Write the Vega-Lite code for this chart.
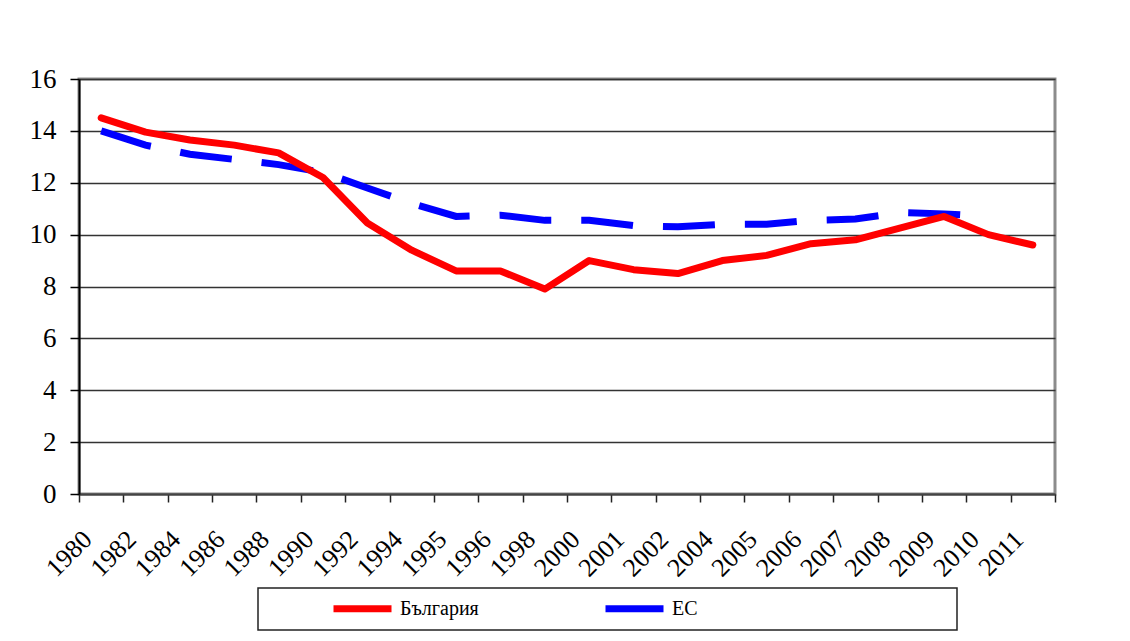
{
  "$schema": "https://vega.github.io/schema/vega-lite/v6.json",
  "width": 976,
  "height": 415,
  "autosize": "none",
  "padding": {"left": 79, "top": 79, "right": 75, "bottom": 147},
  "background": "white",
  "config": {
    "view": {"stroke": "#8c8c8c", "strokeWidth": 3},
    "font": "Liberation Serif",
    "legend": {"strokeColor": "#222222", "strokeWidth": 1.5, "fillColor": "white"}
  },
  "data": {
    "values": [
      {"year": "1980", "series": "България", "value": 14.5},
      {"year": "1982", "series": "България", "value": 13.95},
      {"year": "1984", "series": "България", "value": 13.65},
      {"year": "1986", "series": "България", "value": 13.45},
      {"year": "1988", "series": "България", "value": 13.15},
      {"year": "1990", "series": "България", "value": 12.2},
      {"year": "1992", "series": "България", "value": 10.45},
      {"year": "1994", "series": "България", "value": 9.4},
      {"year": "1995", "series": "България", "value": 8.6},
      {"year": "1996", "series": "България", "value": 8.6},
      {"year": "1998", "series": "България", "value": 7.9},
      {"year": "2000", "series": "България", "value": 9.0},
      {"year": "2001", "series": "България", "value": 8.65},
      {"year": "2002", "series": "България", "value": 8.5},
      {"year": "2004", "series": "България", "value": 9.0},
      {"year": "2005", "series": "България", "value": 9.2},
      {"year": "2006", "series": "България", "value": 9.65},
      {"year": "2007", "series": "България", "value": 9.8},
      {"year": "2008", "series": "България", "value": 10.25},
      {"year": "2009", "series": "България", "value": 10.7},
      {"year": "2010", "series": "България", "value": 10.0},
      {"year": "2011", "series": "България", "value": 9.6},
      {"year": "1980", "series": "ЕС", "value": 14.0},
      {"year": "1982", "series": "ЕС", "value": 13.45},
      {"year": "1984", "series": "ЕС", "value": 13.1},
      {"year": "1986", "series": "ЕС", "value": 12.9},
      {"year": "1988", "series": "ЕС", "value": 12.7},
      {"year": "1990", "series": "ЕС", "value": 12.4},
      {"year": "1992", "series": "ЕС", "value": 11.8},
      {"year": "1994", "series": "ЕС", "value": 11.2},
      {"year": "1995", "series": "ЕС", "value": 10.7},
      {"year": "1996", "series": "ЕС", "value": 10.75},
      {"year": "1998", "series": "ЕС", "value": 10.55},
      {"year": "2000", "series": "ЕС", "value": 10.55},
      {"year": "2001", "series": "ЕС", "value": 10.35},
      {"year": "2002", "series": "ЕС", "value": 10.3},
      {"year": "2004", "series": "ЕС", "value": 10.4},
      {"year": "2005", "series": "ЕС", "value": 10.4},
      {"year": "2006", "series": "ЕС", "value": 10.55},
      {"year": "2007", "series": "ЕС", "value": 10.6},
      {"year": "2008", "series": "ЕС", "value": 10.85},
      {"year": "2009", "series": "ЕС", "value": 10.8},
      {"year": "2010", "series": "ЕС", "value": 10.7}
    ]
  },
  "encoding": {
    "x": {
      "field": "year",
      "type": "ordinal",
      "sort": null,
      "bandPosition": 0.5,
      "scale": {"type": "band", "paddingInner": 0, "paddingOuter": 0},
      "axis": {
        "title": null,
        "tickBand": "extent",
        "grid": false,
        "domainColor": "#444444",
        "domainWidth": 2,
        "tickColor": "#222222",
        "tickWidth": 1.5,
        "tickSize": 8,
        "labelAngle": -45,
        "labelAlign": "right",
        "labelBaseline": "middle",
        "labelPadding": 33,
        "labelOffset": -14,
        "labelFont": "Liberation Serif",
        "labelFontSize": 26,
        "labelColor": "black"
      }
    },
    "y": {
      "field": "value",
      "type": "quantitative",
      "scale": {"domain": [0, 16], "nice": false},
      "axis": {
        "title": null,
        "values": [0, 2, 4, 6, 8, 10, 12, 14, 16],
        "grid": true,
        "gridColor": "#333333",
        "gridWidth": 1.5,
        "domainColor": "black",
        "domainWidth": 2,
        "tickColor": "black",
        "tickWidth": 1.5,
        "tickSize": 9,
        "labelPadding": 14,
        "labelFont": "Liberation Serif",
        "labelFontSize": 27,
        "labelColor": "black"
      }
    },
    "color": {
      "field": "series",
      "type": "nominal",
      "scale": {"domain": ["България", "ЕС", " "], "range": ["#ff0000", "#0000ff", "transparent"]},
      "legend": {
        "orient": "none",
        "legendX": 179,
        "legendY": 509,
        "direction": "horizontal",
        "columns": 3,
        "gridAlign": "all",
        "title": null,
        "padding": 7,
        "symbolOffset": 84,
        "symbolType": "M-2.9,0H2.9",
        "symbolSize": 400,
        "symbolStrokeWidth": 7,
        "labelOffset": 24,
        "columnPadding": 58,
        "labelFont": "Liberation Serif",
        "labelFontSize": 20,
        "labelColor": "black"
      }
    }
  },
  "layer": [
    {
      "transform": [{"filter": "datum.series === 'ЕС'"}],
      "mark": {"type": "line", "strokeWidth": 7, "strokeDash": [52, 30], "strokeCap": "butt"}
    },
    {
      "transform": [{"filter": "datum.series === 'България'"}],
      "mark": {"type": "line", "strokeWidth": 7, "strokeCap": "round", "strokeJoin": "round"}
    }
  ]
}
